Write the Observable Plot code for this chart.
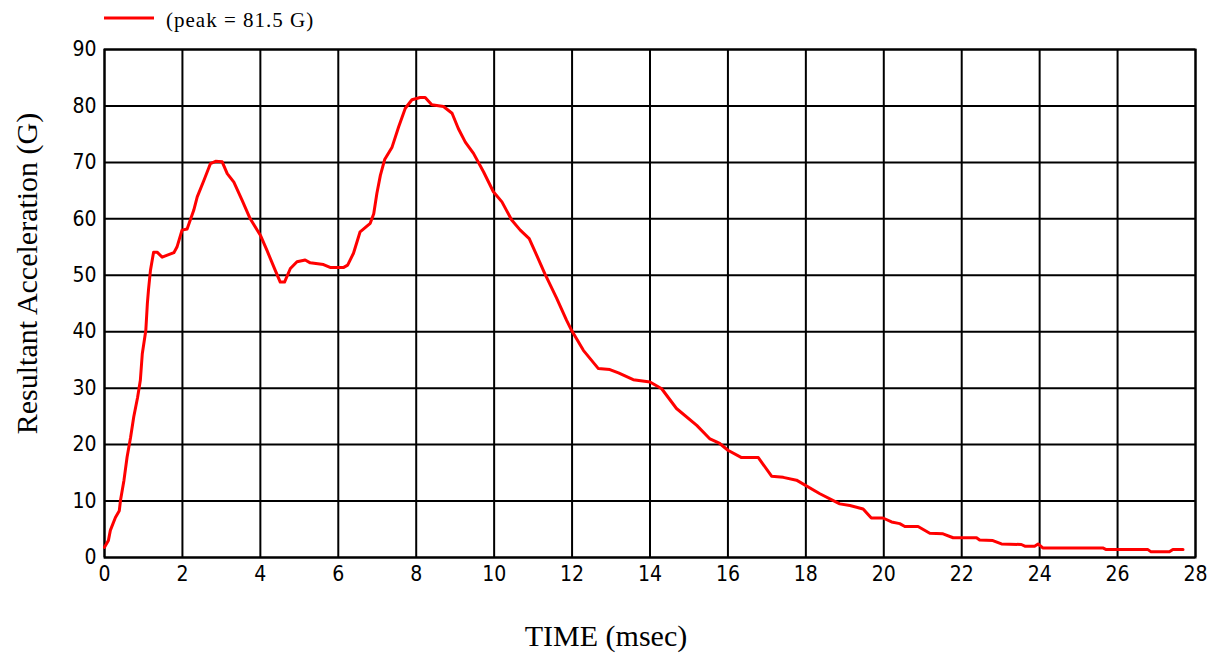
<!DOCTYPE html>
<html>
<head>
<meta charset="utf-8">
<script src="https://cdn.jsdelivr.net/npm/d3@7"></script>
<script src="https://cdn.jsdelivr.net/npm/@observablehq/plot@0.6"></script>
<style>
  html, body { margin: 0; padding: 0; background: #fff; }
  #legend { display: block; }
</style>
</head>
<body>
<svg id="legend" width="1214" height="36">
  <line x1="104" x2="154" y1="18" y2="18" stroke="#ff0000" stroke-width="3"></line>
  <text x="166" y="27" font-family="'Liberation Serif', 'Times New Roman', serif" font-size="21px" letter-spacing="1" fill="#000">(peak = 81.5 G)</text>
</svg>
<div id="chart"></div>
<script>
const timeMs = [0, 0.1, 0.15, 0.28, 0.38, 0.41, 0.5, 0.58, 0.67, 0.75, 0.85, 0.92, 0.97, 1.06, 1.1, 1.13, 1.18, 1.26, 1.35, 1.48, 1.78, 1.86, 1.99, 2.12, 2.29, 2.38, 2.55, 2.72, 2.85, 3.02, 3.15, 3.32, 3.53, 3.74, 4.0, 4.17, 4.38, 4.51, 4.62, 4.77, 4.94, 5.15, 5.28, 5.62, 5.79, 6.14, 6.24, 6.39, 6.56, 6.82, 6.91, 6.99, 7.08, 7.19, 7.38, 7.55, 7.72, 7.89, 8.1, 8.23, 8.4, 8.7, 8.92, 9.08, 9.26, 9.47, 9.73, 9.98, 10.2, 10.45, 10.67, 10.9, 11.05, 11.3, 11.6, 11.86, 11.99, 12.29, 12.67, 12.97, 13.19, 13.57, 14.0, 14.3, 14.68, 15.2, 15.54, 15.79, 16.0, 16.35, 16.78, 17.12, 17.42, 17.76, 18.36, 18.87, 19.13, 19.47, 19.68, 19.98, 20.2, 20.41, 20.54, 20.88, 21.18, 21.52, 21.78, 22.38, 22.46, 22.8, 23.02, 23.53, 23.62, 23.87, 23.96, 24.08, 25.62, 25.71, 26.78, 26.86, 27.33, 27.42, 27.68];
const accelG = [1.8, 3.0, 4.8, 7.1, 8.3, 10.1, 13.7, 17.8, 21.3, 24.9, 28.4, 31.4, 36.1, 40.2, 45.0, 47.5, 50.9, 54.1, 54.1, 53.2, 54.0, 55.0, 58.0, 58.2, 61.5, 63.9, 66.8, 69.8, 70.2, 70.1, 68.0, 66.5, 63.3, 60.0, 57.1, 54.4, 50.9, 48.8, 48.8, 51.2, 52.4, 52.7, 52.2, 51.9, 51.4, 51.4, 51.8, 53.9, 57.7, 59.2, 60.9, 64.5, 67.7, 70.5, 72.7, 76.3, 79.6, 81.1, 81.5, 81.5, 80.2, 79.9, 78.7, 76.0, 73.6, 71.6, 68.3, 64.8, 63.0, 59.8, 58.0, 56.5, 54.2, 50.3, 46.0, 42.0, 40.2, 36.7, 33.5, 33.3, 32.7, 31.5, 31.1, 29.9, 26.4, 23.4, 21.0, 20.2, 19.0, 17.7, 17.7, 14.4, 14.2, 13.7, 11.3, 9.5, 9.2, 8.6, 7.0, 7.0, 6.3, 6.0, 5.5, 5.5, 4.3, 4.2, 3.5, 3.5, 3.1, 3.0, 2.4, 2.3, 2.0, 2.0, 2.4, 1.7, 1.7, 1.4, 1.4, 1.0, 1.0, 1.4, 1.4];
const xTicks = [0, 2, 4, 6, 8, 10, 12, 14, 16, 18, 20, 22, 24, 26, 28];
const yTicks = [0, 10, 20, 30, 40, 50, 60, 70, 80, 90];
const xLabel = "TIME (msec)";
const yLabel = "Resultant Acceleration (G)";

const data = timeMs.map((t, i) => ({t, g: accelG[i]}));
const serif = "'Liberation Serif', 'Times New Roman', serif";

const chart = Plot.plot({
  width: 1214,
  height: 620,
  marginLeft: 104,
  marginRight: 19,
  marginTop: 13,
  marginBottom: 99,
  style: {
    fontFamily: "'Liberation Sans Narrow', 'Arial Narrow', 'DejaVu Sans Condensed', sans-serif",
    fontSize: "21px",
    color: "#000",
    background: "#fff"
  },
  x: {domain: [0, 28], ticks: xTicks, label: null},
  y: {domain: [0, 90], ticks: yTicks, label: null},
  marks: [
    Plot.gridX(xTicks, {stroke: "#000", strokeOpacity: 1, strokeWidth: 2}),
    Plot.gridY(yTicks, {stroke: "#000", strokeOpacity: 1, strokeWidth: 2}),
    Plot.frame({stroke: "#000", strokeWidth: 2}),
    Plot.axisX(xTicks, {tickSize: 0, tickPadding: 9, label: null, fill: "#000"}),
    Plot.axisY(yTicks, {tickSize: 0, tickPadding: 8, label: null, fill: "#000"}),
    Plot.line(data, {x: "t", y: "g", stroke: "#ff0000", strokeWidth: 3}),
    Plot.text([xLabel], {text: d => d, frameAnchor: "bottom", dx: -44, dy: 88, lineAnchor: "bottom", fontFamily: serif, fontSize: 30, fill: "#000"}),
    Plot.text([yLabel], {text: d => d, frameAnchor: "left", textAnchor: "middle", rotate: -90, dx: -77, dy: -30, lineAnchor: "middle", fontFamily: serif, fontSize: 30, letterSpacing: 0.5, fill: "#000"})
  ]
});
document.getElementById("chart").appendChild(chart);
</script>
</body>
</html>
